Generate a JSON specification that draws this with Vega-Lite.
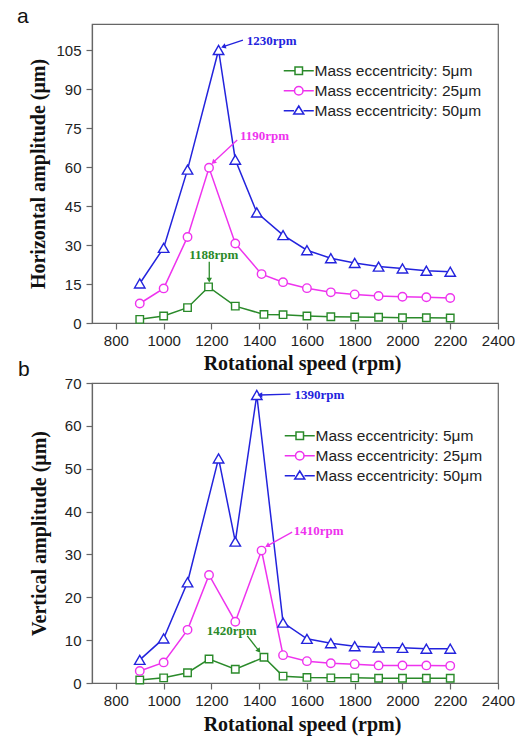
{
  "$schema": "https://vega.github.io/schema/vega-lite/v6.json",
  "padding": {"left": 16, "top": 5, "right": 5, "bottom": 5},
  "background": "white",
  "config": {
    "view": {"stroke": "#666", "strokeWidth": 1.2},
    "axis": {"labelFont": "Liberation Sans", "labelFontSize": 15, "labelColor": "#222", "domainColor": "#666", "tickColor": "#666", "domainWidth": 1.2, "tickWidth": 1.2, "grid": false, "labelOverlap": false, "titleFont": "Liberation Serif", "titleFontSize": 20, "titleFontWeight": "bold", "titleColor": "#111"},
    "legend": {"labelFont": "Liberation Sans", "labelFontSize": 15.5, "labelColor": "#222", "labelLimit": 400, "symbolSize": 100, "symbolStrokeWidth": 1.5, "labelOffset": 8, "rowPadding": 3, "padding": 0}
  },
  "datasets": {
    "h": [
      {"rpm": 900, "amp": 1.4, "series": "Mass eccentricity: 5μm"},
      {"rpm": 1000, "amp": 2.7, "series": "Mass eccentricity: 5μm"},
      {"rpm": 1100, "amp": 5.9, "series": "Mass eccentricity: 5μm"},
      {"rpm": 1188, "amp": 13.9, "series": "Mass eccentricity: 5μm"},
      {"rpm": 1300, "amp": 6.5, "series": "Mass eccentricity: 5μm"},
      {"rpm": 1420, "amp": 3.3, "series": "Mass eccentricity: 5μm"},
      {"rpm": 1500, "amp": 3.2, "series": "Mass eccentricity: 5μm"},
      {"rpm": 1600, "amp": 2.7, "series": "Mass eccentricity: 5μm"},
      {"rpm": 1700, "amp": 2.4, "series": "Mass eccentricity: 5μm"},
      {"rpm": 1800, "amp": 2.3, "series": "Mass eccentricity: 5μm"},
      {"rpm": 1900, "amp": 2.2, "series": "Mass eccentricity: 5μm"},
      {"rpm": 2000, "amp": 2.0, "series": "Mass eccentricity: 5μm"},
      {"rpm": 2100, "amp": 2.0, "series": "Mass eccentricity: 5μm"},
      {"rpm": 2200, "amp": 1.9, "series": "Mass eccentricity: 5μm"},
      {"rpm": 900, "amp": 7.5, "series": "Mass eccentricity: 25μm"},
      {"rpm": 1000, "amp": 13.3, "series": "Mass eccentricity: 25μm"},
      {"rpm": 1100, "amp": 33.1, "series": "Mass eccentricity: 25μm"},
      {"rpm": 1190, "amp": 59.7, "series": "Mass eccentricity: 25μm"},
      {"rpm": 1300, "amp": 30.6, "series": "Mass eccentricity: 25μm"},
      {"rpm": 1410, "amp": 18.8, "series": "Mass eccentricity: 25μm"},
      {"rpm": 1500, "amp": 15.7, "series": "Mass eccentricity: 25μm"},
      {"rpm": 1600, "amp": 13.4, "series": "Mass eccentricity: 25μm"},
      {"rpm": 1700, "amp": 11.8, "series": "Mass eccentricity: 25μm"},
      {"rpm": 1800, "amp": 11.0, "series": "Mass eccentricity: 25μm"},
      {"rpm": 1900, "amp": 10.4, "series": "Mass eccentricity: 25μm"},
      {"rpm": 2000, "amp": 10.1, "series": "Mass eccentricity: 25μm"},
      {"rpm": 2100, "amp": 9.9, "series": "Mass eccentricity: 25μm"},
      {"rpm": 2200, "amp": 9.6, "series": "Mass eccentricity: 25μm"},
      {"rpm": 900, "amp": 15.2, "series": "Mass eccentricity: 50μm"},
      {"rpm": 1000, "amp": 28.9, "series": "Mass eccentricity: 50μm"},
      {"rpm": 1100, "amp": 59.0, "series": "Mass eccentricity: 50μm"},
      {"rpm": 1230, "amp": 105, "series": "Mass eccentricity: 50μm"},
      {"rpm": 1300, "amp": 62.8, "series": "Mass eccentricity: 50μm"},
      {"rpm": 1390, "amp": 42.5, "series": "Mass eccentricity: 50μm"},
      {"rpm": 1500, "amp": 33.8, "series": "Mass eccentricity: 50μm"},
      {"rpm": 1600, "amp": 28.0, "series": "Mass eccentricity: 50μm"},
      {"rpm": 1700, "amp": 24.9, "series": "Mass eccentricity: 50μm"},
      {"rpm": 1800, "amp": 23.1, "series": "Mass eccentricity: 50μm"},
      {"rpm": 1900, "amp": 21.7, "series": "Mass eccentricity: 50μm"},
      {"rpm": 2000, "amp": 21.0, "series": "Mass eccentricity: 50μm"},
      {"rpm": 2100, "amp": 20.1, "series": "Mass eccentricity: 50μm"},
      {"rpm": 2200, "amp": 19.7, "series": "Mass eccentricity: 50μm"}
    ],
    "v": [
      {"rpm": 900, "amp": 0.7, "series": "Mass eccentricity: 5μm"},
      {"rpm": 1000, "amp": 1.2, "series": "Mass eccentricity: 5μm"},
      {"rpm": 1100, "amp": 2.4, "series": "Mass eccentricity: 5μm"},
      {"rpm": 1190, "amp": 5.6, "series": "Mass eccentricity: 5μm"},
      {"rpm": 1300, "amp": 3.2, "series": "Mass eccentricity: 5μm"},
      {"rpm": 1420, "amp": 6.0, "series": "Mass eccentricity: 5μm"},
      {"rpm": 1500, "amp": 1.6, "series": "Mass eccentricity: 5μm"},
      {"rpm": 1600, "amp": 1.3, "series": "Mass eccentricity: 5μm"},
      {"rpm": 1700, "amp": 1.2, "series": "Mass eccentricity: 5μm"},
      {"rpm": 1800, "amp": 1.2, "series": "Mass eccentricity: 5μm"},
      {"rpm": 1900, "amp": 1.1, "series": "Mass eccentricity: 5μm"},
      {"rpm": 2000, "amp": 1.1, "series": "Mass eccentricity: 5μm"},
      {"rpm": 2100, "amp": 1.1, "series": "Mass eccentricity: 5μm"},
      {"rpm": 2200, "amp": 1.1, "series": "Mass eccentricity: 5μm"},
      {"rpm": 900, "amp": 2.8, "series": "Mass eccentricity: 25μm"},
      {"rpm": 1000, "amp": 4.8, "series": "Mass eccentricity: 25μm"},
      {"rpm": 1100, "amp": 12.4, "series": "Mass eccentricity: 25μm"},
      {"rpm": 1190, "amp": 25.2, "series": "Mass eccentricity: 25μm"},
      {"rpm": 1300, "amp": 14.3, "series": "Mass eccentricity: 25μm"},
      {"rpm": 1410, "amp": 30.9, "series": "Mass eccentricity: 25μm"},
      {"rpm": 1500, "amp": 6.5, "series": "Mass eccentricity: 25μm"},
      {"rpm": 1600, "amp": 5.1, "series": "Mass eccentricity: 25μm"},
      {"rpm": 1700, "amp": 4.6, "series": "Mass eccentricity: 25μm"},
      {"rpm": 1800, "amp": 4.4, "series": "Mass eccentricity: 25μm"},
      {"rpm": 1900, "amp": 4.1, "series": "Mass eccentricity: 25μm"},
      {"rpm": 2000, "amp": 4.1, "series": "Mass eccentricity: 25μm"},
      {"rpm": 2100, "amp": 4.1, "series": "Mass eccentricity: 25μm"},
      {"rpm": 2200, "amp": 4.0, "series": "Mass eccentricity: 25μm"},
      {"rpm": 900, "amp": 5.4, "series": "Mass eccentricity: 50μm"},
      {"rpm": 1000, "amp": 10.4, "series": "Mass eccentricity: 50μm"},
      {"rpm": 1100, "amp": 23.5, "series": "Mass eccentricity: 50μm"},
      {"rpm": 1230, "amp": 52.4, "series": "Mass eccentricity: 50μm"},
      {"rpm": 1300, "amp": 33.0, "series": "Mass eccentricity: 50μm"},
      {"rpm": 1390, "amp": 67.2, "series": "Mass eccentricity: 50μm"},
      {"rpm": 1500, "amp": 14.1, "series": "Mass eccentricity: 50μm"},
      {"rpm": 1600, "amp": 10.3, "series": "Mass eccentricity: 50μm"},
      {"rpm": 1700, "amp": 9.3, "series": "Mass eccentricity: 50μm"},
      {"rpm": 1800, "amp": 8.6, "series": "Mass eccentricity: 50μm"},
      {"rpm": 1900, "amp": 8.3, "series": "Mass eccentricity: 50μm"},
      {"rpm": 2000, "amp": 8.2, "series": "Mass eccentricity: 50μm"},
      {"rpm": 2100, "amp": 8.0, "series": "Mass eccentricity: 50μm"},
      {"rpm": 2200, "amp": 8.0, "series": "Mass eccentricity: 50μm"}
    ],
    "ann_h": [
      {"rpm": 1348, "amp": 106.9, "rpm2": 1250, "amp2": 106.3, "rpm0": 1332, "amp0": 108.8, "label": "1230rpm", "series": "Mass eccentricity: 50μm"},
      {"rpm": 1320, "amp": 70.4, "rpm2": 1208, "amp2": 61.8, "rpm0": 1308, "amp0": 70.4, "label": "1190rpm", "series": "Mass eccentricity: 25μm"},
      {"rpm": 1107, "amp": 24.5, "rpm2": 1191, "amp2": 16.5, "rpm0": 1191, "amp0": 23.6, "label": "1188rpm", "series": "Mass eccentricity: 5μm"}
    ],
    "ann_v": [
      {"rpm": 1548, "amp": 66.3, "rpm2": 1403, "amp2": 67.2, "rpm0": 1531, "amp0": 67.4, "label": "1390rpm", "series": "Mass eccentricity: 50μm"},
      {"rpm": 1545, "amp": 34.5, "rpm2": 1434, "amp2": 32.0, "rpm0": 1538, "amp0": 35.2, "label": "1410rpm", "series": "Mass eccentricity: 25μm"},
      {"rpm": 1180, "amp": 11.2, "rpm2": 1399, "amp2": 7.5, "rpm0": 1350, "amp0": 11.0, "label": "1420rpm", "series": "Mass eccentricity: 5μm"}
    ]
  },
  "spacing": 60,
  "bounds": "flush",
  "resolve": {
    "scale": {"x": "independent", "y": "independent", "stroke": "independent", "shape": "independent"},
    "legend": {"stroke": "independent", "shape": "independent"}
  },
  "vconcat": [
    {
      "width": 406,
      "height": 299,
      "title": {"text": "a", "anchor": "start", "frame": "group", "dx": -75, "offset": -20, "baseline": "alphabetic", "font": "Liberation Sans", "fontSize": 21, "fontWeight": "normal", "color": "#111"},
      "layer": [
        {
          "data": {"name": "h"},
          "mark": {"type": "line", "strokeWidth": 1.5},
          "encoding": {
            "x": {"field": "rpm", "type": "quantitative", "scale": {"domain": [700, 2400], "nice": false, "zero": false},
              "axis": {"title": "Rotational speed (rpm)", "values": [800, 1000, 1200, 1400, 1600, 1800, 2000, 2200, 2400], "format": "d", "labelOverlap": false, "labelFlush": false, "tickSize": 6, "labelPadding": 4, "titleX": 210, "titleY": 46, "titleBaseline": "alphabetic", "titleAlign": "center"}},
            "y": {"field": "amp", "type": "quantitative", "scale": {"domain": [0, 115], "nice": false},
              "axis": {"title": "Horizontal amplitude (μm)", "values": [0, 7.5, 15, 22.5, 30, 37.5, 45, 52.5, 60, 67.5, 75, 82.5, 90, 97.5, 105, 112.5], "labelOverlap": false, "labelExpr": "datum.value % 15 == 0 ? datum.label : ''", "tickSize": {"condition": {"test": "datum.value % 15 == 0", "value": 6}, "value": 3}, "labelPadding": 5, "titleX": -48, "titleY": 149.5, "titleAngle": -90, "titleBaseline": "alphabetic", "titleAlign": "center"}},
            "stroke": {"field": "series", "type": "nominal",
              "scale": {"domain": ["Mass eccentricity: 5μm", "Mass eccentricity: 25μm", "Mass eccentricity: 50μm"], "range": ["#2a8a2a", "#ee33ee", "#2323dd"]},
              "legend": {"orient": "none", "legendX": 199, "legendY": 39, "title": null}}
          }
        },
        {
          "data": {"name": "h"},
          "transform": [{"filter": "false"}],
          "mark": {"type": "point", "filled": false, "opacity": 1, "strokeWidth": 1.5},
          "encoding": {
            "x": {"field": "rpm", "type": "quantitative"},
            "y": {"field": "amp", "type": "quantitative"},
            "stroke": {"field": "series", "type": "nominal"},
            "shape": {"field": "series", "type": "nominal",
              "scale": {"domain": ["Mass eccentricity: 5μm", "Mass eccentricity: 25μm", "Mass eccentricity: 50μm"], "range": ["M-3,0H-0.75M0.75,0H3M-0.75,-0.75H0.75V0.75H-0.75Z", "M-3,0H-0.85M0.85,0H3M-0.85,0A0.85,0.85 0 1,0 0.85,0A0.85,0.85 0 1,0 -0.85,0Z", "M-3,0H-0.95M0.95,0H3M0,-0.95L1,0.65H-1Z"]},
              "legend": {"orient": "none", "legendX": 199, "legendY": 39, "title": null}}
          }
        },
        {
          "data": {"name": "h"},
          "transform": [{"filter": "datum.series == 'Mass eccentricity: 5μm'"}],
          "mark": {"type": "point", "shape": "square", "size": 56, "filled": false, "fill": "white", "stroke": "#2a8a2a", "strokeWidth": 1.4, "opacity": 1},
          "encoding": {"x": {"field": "rpm", "type": "quantitative"}, "y": {"field": "amp", "type": "quantitative"}}
        },
        {
          "data": {"name": "h"},
          "transform": [{"filter": "datum.series == 'Mass eccentricity: 25μm'"}],
          "mark": {"type": "point", "shape": "circle", "size": 72, "filled": false, "fill": "white", "stroke": "#ee33ee", "strokeWidth": 1.4, "opacity": 1},
          "encoding": {"x": {"field": "rpm", "type": "quantitative"}, "y": {"field": "amp", "type": "quantitative"}}
        },
        {
          "data": {"name": "h"},
          "transform": [{"filter": "datum.series == 'Mass eccentricity: 50μm'"}],
          "mark": {"type": "point", "shape": "triangle-up", "size": 110, "filled": false, "fill": "white", "stroke": "#2323dd", "strokeWidth": 1.4, "opacity": 1},
          "encoding": {"x": {"field": "rpm", "type": "quantitative"}, "y": {"field": "amp", "type": "quantitative"}}
        },
        {
          "data": {"name": "ann_h"},
          "mark": {"type": "rule", "strokeWidth": 1.3},
          "encoding": {
            "x": {"field": "rpm0", "type": "quantitative"},
            "y": {"field": "amp0", "type": "quantitative"},
            "x2": {"field": "rpm2"},
            "y2": {"field": "amp2"},
            "stroke": {"field": "series", "type": "nominal"}
          }
        },
        {
          "data": {"name": "ann_h"},
          "transform": [{"filter": "datum.label == '1230rpm'"}],
          "layer": [
            {"mark": {"type": "point", "shape": "triangle-up", "filled": true, "size": 30, "angle": 251, "opacity": 1, "fill": "#2323dd"},
              "encoding": {"x": {"field": "rpm2", "type": "quantitative"}, "y": {"field": "amp2", "type": "quantitative"}}},
            {"mark": {"type": "text", "align": "left", "baseline": "alphabetic", "font": "Liberation Serif", "fontSize": 13, "fontWeight": "bold", "fill": "#2323dd"},
              "encoding": {"x": {"field": "rpm", "type": "quantitative"}, "y": {"field": "amp", "type": "quantitative"}, "text": {"field": "label"}}}
          ]
        },
        {
          "data": {"name": "ann_h"},
          "transform": [{"filter": "datum.label == '1190rpm'"}],
          "layer": [
            {"mark": {"type": "point", "shape": "triangle-up", "filled": true, "size": 30, "angle": 227, "opacity": 1, "fill": "#ee33ee"},
              "encoding": {"x": {"field": "rpm2", "type": "quantitative"}, "y": {"field": "amp2", "type": "quantitative"}}},
            {"mark": {"type": "text", "align": "left", "baseline": "alphabetic", "font": "Liberation Serif", "fontSize": 13, "fontWeight": "bold", "fill": "#ee33ee"},
              "encoding": {"x": {"field": "rpm", "type": "quantitative"}, "y": {"field": "amp", "type": "quantitative"}, "text": {"field": "label"}}}
          ]
        },
        {
          "data": {"name": "ann_h"},
          "transform": [{"filter": "datum.label == '1188rpm'"}],
          "layer": [
            {"mark": {"type": "point", "shape": "triangle-up", "filled": true, "size": 30, "angle": 180, "opacity": 1, "fill": "#2a8a2a"},
              "encoding": {"x": {"field": "rpm2", "type": "quantitative"}, "y": {"field": "amp2", "type": "quantitative"}}},
            {"mark": {"type": "text", "align": "left", "baseline": "alphabetic", "font": "Liberation Serif", "fontSize": 13, "fontWeight": "bold", "fill": "#2a8a2a"},
              "encoding": {"x": {"field": "rpm", "type": "quantitative"}, "y": {"field": "amp", "type": "quantitative"}, "text": {"field": "label"}}}
          ]
        }
      ]
    },
    {
      "width": 406,
      "height": 300,
      "title": {"text": "b", "anchor": "start", "frame": "group", "dx": -74, "offset": -21, "baseline": "alphabetic", "font": "Liberation Sans", "fontSize": 21, "fontWeight": "normal", "color": "#111"},
      "layer": [
        {
          "data": {"name": "v"},
          "mark": {"type": "line", "strokeWidth": 1.5},
          "encoding": {
            "x": {"field": "rpm", "type": "quantitative", "scale": {"domain": [700, 2400], "nice": false, "zero": false},
              "axis": {"title": "Rotational speed (rpm)", "values": [800, 1000, 1200, 1400, 1600, 1800, 2000, 2200, 2400], "format": "d", "labelOverlap": false, "labelFlush": false, "tickSize": 6, "labelPadding": 4, "titleX": 210, "titleY": 47, "titleBaseline": "alphabetic", "titleAlign": "center"}},
            "y": {"field": "amp", "type": "quantitative", "scale": {"domain": [0, 70], "nice": false},
              "axis": {"title": "Vertical amplitude (μm)", "values": [0, 5, 10, 15, 20, 25, 30, 35, 40, 45, 50, 55, 60, 65, 70], "labelOverlap": false, "labelExpr": "datum.value % 10 == 0 ? datum.label : ''", "tickSize": {"condition": {"test": "datum.value % 10 == 0", "value": 6}, "value": 3}, "labelPadding": 5, "titleX": -47, "titleY": 150, "titleAngle": -90, "titleBaseline": "alphabetic", "titleAlign": "center"}},
            "stroke": {"field": "series", "type": "nominal",
              "scale": {"domain": ["Mass eccentricity: 5μm", "Mass eccentricity: 25μm", "Mass eccentricity: 50μm"], "range": ["#2a8a2a", "#ee33ee", "#2323dd"]},
              "legend": {"orient": "none", "legendX": 200, "legendY": 45, "title": null}}
          }
        },
        {
          "data": {"name": "v"},
          "transform": [{"filter": "false"}],
          "mark": {"type": "point", "filled": false, "opacity": 1, "strokeWidth": 1.5},
          "encoding": {
            "x": {"field": "rpm", "type": "quantitative"},
            "y": {"field": "amp", "type": "quantitative"},
            "stroke": {"field": "series", "type": "nominal"},
            "shape": {"field": "series", "type": "nominal",
              "scale": {"domain": ["Mass eccentricity: 5μm", "Mass eccentricity: 25μm", "Mass eccentricity: 50μm"], "range": ["M-3,0H-0.75M0.75,0H3M-0.75,-0.75H0.75V0.75H-0.75Z", "M-3,0H-0.85M0.85,0H3M-0.85,0A0.85,0.85 0 1,0 0.85,0A0.85,0.85 0 1,0 -0.85,0Z", "M-3,0H-0.95M0.95,0H3M0,-0.95L1,0.65H-1Z"]},
              "legend": {"orient": "none", "legendX": 200, "legendY": 45, "title": null}}
          }
        },
        {
          "data": {"name": "v"},
          "transform": [{"filter": "datum.series == 'Mass eccentricity: 5μm'"}],
          "mark": {"type": "point", "shape": "square", "size": 56, "filled": false, "fill": "white", "stroke": "#2a8a2a", "strokeWidth": 1.4, "opacity": 1},
          "encoding": {"x": {"field": "rpm", "type": "quantitative"}, "y": {"field": "amp", "type": "quantitative"}}
        },
        {
          "data": {"name": "v"},
          "transform": [{"filter": "datum.series == 'Mass eccentricity: 25μm'"}],
          "mark": {"type": "point", "shape": "circle", "size": 72, "filled": false, "fill": "white", "stroke": "#ee33ee", "strokeWidth": 1.4, "opacity": 1},
          "encoding": {"x": {"field": "rpm", "type": "quantitative"}, "y": {"field": "amp", "type": "quantitative"}}
        },
        {
          "data": {"name": "v"},
          "transform": [{"filter": "datum.series == 'Mass eccentricity: 50μm'"}],
          "mark": {"type": "point", "shape": "triangle-up", "size": 110, "filled": false, "fill": "white", "stroke": "#2323dd", "strokeWidth": 1.4, "opacity": 1},
          "encoding": {"x": {"field": "rpm", "type": "quantitative"}, "y": {"field": "amp", "type": "quantitative"}}
        },
        {
          "data": {"name": "ann_v"},
          "mark": {"type": "rule", "strokeWidth": 1.3},
          "encoding": {
            "x": {"field": "rpm0", "type": "quantitative"},
            "y": {"field": "amp0", "type": "quantitative"},
            "x2": {"field": "rpm2"},
            "y2": {"field": "amp2"},
            "stroke": {"field": "series", "type": "nominal"}
          }
        },
        {
          "data": {"name": "ann_v"},
          "transform": [{"filter": "datum.label == '1390rpm'"}],
          "layer": [
            {"mark": {"type": "point", "shape": "triangle-up", "filled": true, "size": 30, "angle": 268, "opacity": 1, "fill": "#2323dd"},
              "encoding": {"x": {"field": "rpm2", "type": "quantitative"}, "y": {"field": "amp2", "type": "quantitative"}}},
            {"mark": {"type": "text", "align": "left", "baseline": "alphabetic", "font": "Liberation Serif", "fontSize": 13, "fontWeight": "bold", "fill": "#2323dd"},
              "encoding": {"x": {"field": "rpm", "type": "quantitative"}, "y": {"field": "amp", "type": "quantitative"}, "text": {"field": "label"}}}
          ]
        },
        {
          "data": {"name": "ann_v"},
          "transform": [{"filter": "datum.label == '1410rpm'"}],
          "layer": [
            {"mark": {"type": "point", "shape": "triangle-up", "filled": true, "size": 30, "angle": 241, "opacity": 1, "fill": "#ee33ee"},
              "encoding": {"x": {"field": "rpm2", "type": "quantitative"}, "y": {"field": "amp2", "type": "quantitative"}}},
            {"mark": {"type": "text", "align": "left", "baseline": "alphabetic", "font": "Liberation Serif", "fontSize": 13, "fontWeight": "bold", "fill": "#ee33ee"},
              "encoding": {"x": {"field": "rpm", "type": "quantitative"}, "y": {"field": "amp", "type": "quantitative"}, "text": {"field": "label"}}}
          ]
        },
        {
          "data": {"name": "ann_v"},
          "transform": [{"filter": "datum.label == '1420rpm'"}],
          "layer": [
            {"mark": {"type": "point", "shape": "triangle-up", "filled": true, "size": 30, "angle": 142, "opacity": 1, "fill": "#2a8a2a"},
              "encoding": {"x": {"field": "rpm2", "type": "quantitative"}, "y": {"field": "amp2", "type": "quantitative"}}},
            {"mark": {"type": "text", "align": "left", "baseline": "alphabetic", "font": "Liberation Serif", "fontSize": 13, "fontWeight": "bold", "fill": "#2a8a2a"},
              "encoding": {"x": {"field": "rpm", "type": "quantitative"}, "y": {"field": "amp", "type": "quantitative"}, "text": {"field": "label"}}}
          ]
        }
      ]
    }
  ]
}
